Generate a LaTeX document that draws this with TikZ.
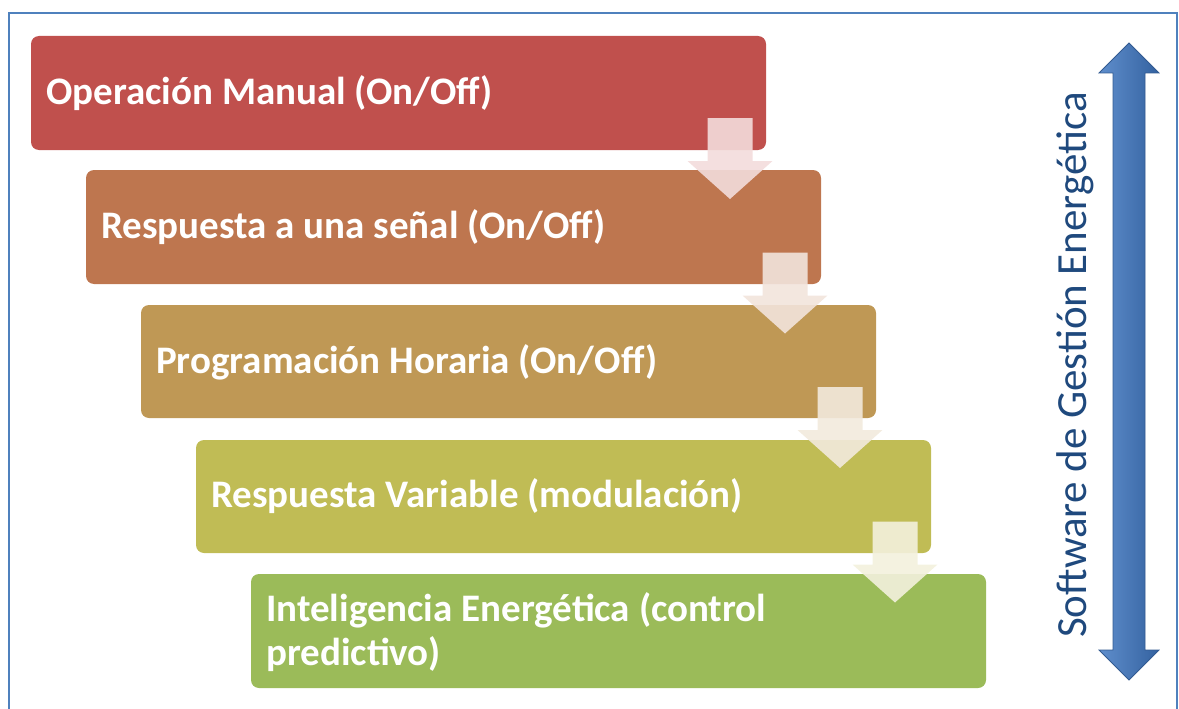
\documentclass[tikz,border=0pt]{standalone}
\usepackage{fontspec}
\setmainfont{Carlito}
\usetikzlibrary{calc}
\definecolor{c1}{RGB}{192,80,77}
\definecolor{c2}{RGB}{190,118,79}
\definecolor{c3}{RGB}{191,152,85}
\definecolor{c4}{RGB}{192,188,85}
\definecolor{c5}{RGB}{155,187,89}
\definecolor{frameblue}{RGB}{79,129,189}
\definecolor{txtblue}{RGB}{31,73,125}
\definecolor{arrL}{RGB}{95,142,204}
\definecolor{arrR}{RGB}{52,98,160}
\definecolor{arrD}{RGB}{50,90,145}
\tikzset{
  steptext/.style={font=\bfseries\fontsize{39}{44}\selectfont, text=white, anchor=west, align=left, inner sep=0pt},
  flowarrow/.style={opacity=0.9}
}
\begin{document}
\begin{tikzpicture}[x=1pt,y=-1pt]
\useasboundingbox (0,0) rectangle (1179,709);
% frame
\draw[frameblue, line width=2.5pt] (9,720) -- (9,13) -- (1177,13) -- (1177,720);
% boxes
\fill[c1, rounded corners=8pt] (31,36) rectangle (766,150);
\fill[c2, rounded corners=8pt] (86,170) rectangle (821,284);
\fill[c3, rounded corners=8pt] (141,305) rectangle (876,418);
\fill[c4, rounded corners=8pt] (196,440) rectangle (931,553);
\fill[c5, rounded corners=8pt] (251,574) rectangle (986,688);
\node[steptext] (t1) at (46,93) {Operación Manual (On/Off)};
\node[steptext] (t2) at (101,227) {Respuesta a una señal (On/Off)};
\node[steptext] (t3) at (156,362) {Programación Horaria (On/Off)};
\node[steptext] (t4) at (211,496) {Respuesta Variable (modulación)};
\node[steptext] (t5) at (266,632) {Inteligencia Energética (control\\predictivo)};
% down arrows
\foreach \i/\col in {0/c1,1/c2,2/c3,3/c4}{
  \pgfmathsetmacro{\cx}{730+55*\i}
  \pgfmathsetmacro{\ty}{118+134.5*\i}
  \fill[\col!20!white, flowarrow]
    (\cx-22.5,\ty) -- (\cx+22.5,\ty) -- (\cx+22.5,\ty+43) -- (\cx+42.5,\ty+43)
    -- (\cx,\ty+81) -- (\cx-42.5,\ty+43) -- (\cx-22.5,\ty+43) -- cycle;
}
% double arrow
\shade[left color=arrL, right color=arrR, draw=arrD, line width=0.8pt]
  (1129,43) -- (1159,73) -- (1145,73) -- (1145,650) -- (1159,650) -- (1129,680)
  -- (1099,650) -- (1113,650) -- (1113,73) -- (1099,73) -- cycle;
\node[rotate=90, text=txtblue, font=\fontsize{43}{48}\selectfont, inner sep=0pt] (sw) at (1075,365) {Software de Gestión Energética};
\end{tikzpicture}
\end{document}
